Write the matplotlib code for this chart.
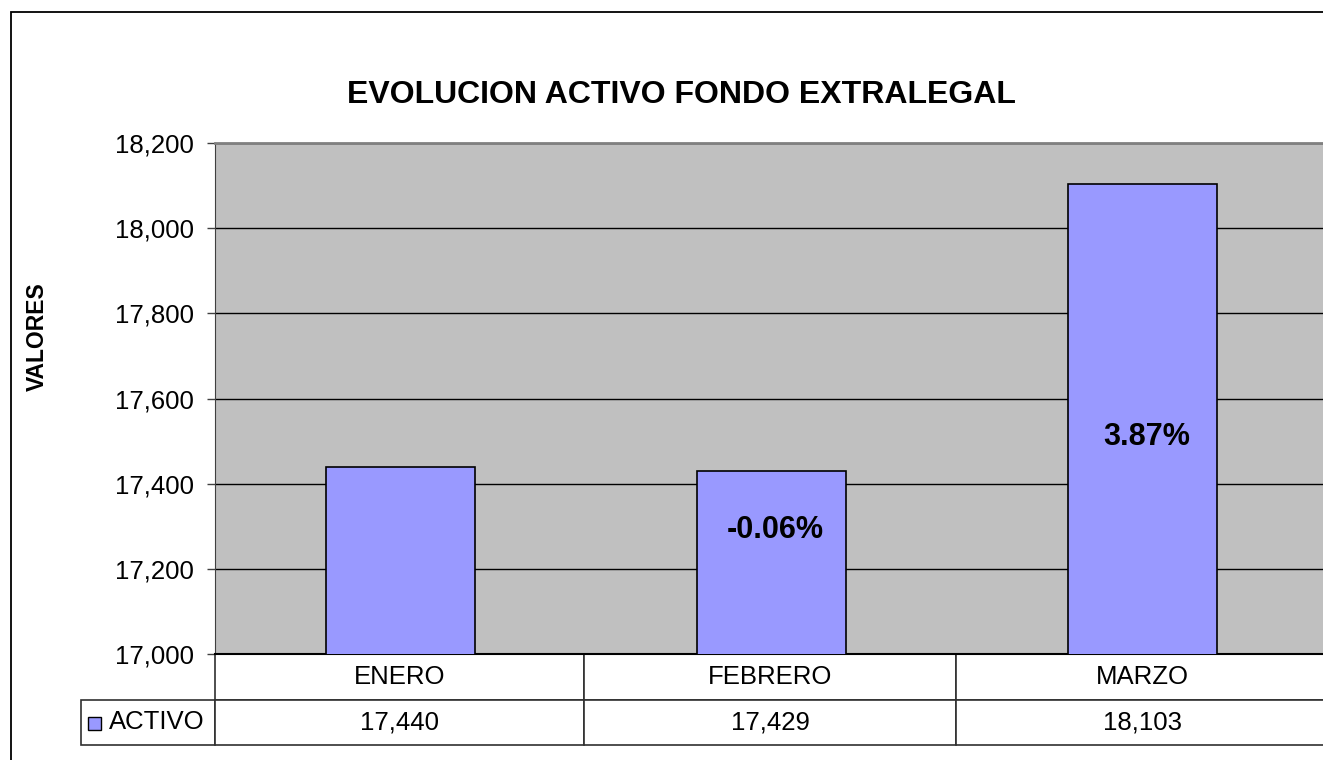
import matplotlib.pyplot as plt
from matplotlib.patches import Rectangle

plt.rcParams['font.family'] = ['Liberation Sans', 'DejaVu Sans']

meses = ['ENERO', 'FEBRERO', 'MARZO']
activo = [17440, 17429, 18103]
variacion = ['', '-0.06%', '3.87%']
pct_y = [None, 17291, 17510]   # where the percent labels sit
serie = 'ACTIVO'

W, H = 1323, 760
fig = plt.figure(figsize=(W / 100, H / 100), dpi=100)
fig.patch.set_facecolor('white')

# chart border (cropped on the right and bottom in the original)
fig.patches.append(Rectangle((11 / W, -0.05), 1.2, (H - 12) / H + 0.05,
                             transform=fig.transFigure, fill=False,
                             edgecolor='black', lw=1.3))

ax = fig.add_axes([215 / W, (H - 654) / H, (1328 - 215) / W, 511 / H])
ax.set_facecolor('#C0C0C0')

x = range(len(meses))
ax.set_axisbelow(True)
ax.yaxis.grid(True, color='black', lw=1)
ax.bar(x, activo, width=0.4, color='#9999FF', edgecolor='black', lw=1.2, zorder=3)

for i, t in enumerate(variacion):
    if t:
        ax.text(i + 0.01, pct_y[i], t, ha='center', va='center',
                fontsize=22, fontweight='bold', zorder=4)

ax.set_xlim(-0.5, 2.5)
ax.set_ylim(17000, 18200)
ax.set_yticks(range(17000, 18201, 200))
ax.set_yticklabels([f'{v:,}' for v in range(17000, 18201, 200)], fontsize=18.5)
ax.tick_params(axis='y', direction='out', length=6, pad=9, width=1, color='#404040')
ax.set_xticks([])
ax.spines['right'].set_visible(False)
ax.spines['top'].set_color('#808080')
ax.spines['top'].set_linewidth(2)
ax.spines['left'].set_color('#404040')
ax.spines['bottom'].set_color('black')
ax.spines['bottom'].set_linewidth(1.5)

# data table under the plot
tab_h = 91 / 511
left_w = (215 - 81) / (1328 - 215)
cells = [[''] + meses, [serie] + [f'{v:,}' for v in activo]]
tbl = ax.table(cellText=cells, cellLoc='center',
               colWidths=[134, 369, 372, 372],
               bbox=[-left_w, -tab_h, 1 + left_w, tab_h])
tbl.auto_set_font_size(False)
tbl.set_fontsize(18.5)
for (r, c), cell in tbl.get_celld().items():
    cell.set_edgecolor('#303030')
    cell.set_linewidth(1.2)
    if r == 0 and c == 0:
        cell.set_visible(False)
    if r == 1 and c == 0:
        cell._loc = 'right'
        cell.PAD = 0.08
        cell.get_text().set_horizontalalignment('right')

# legend key in the table
fig.patches.append(Rectangle((88 / W, 1 - 730 / H), 13 / W, 13 / H,
                             transform=fig.transFigure, facecolor='#9999FF',
                             edgecolor='black', lw=1))

fig.text(681 / W, 1 - 95 / H, 'EVOLUCION ACTIVO FONDO EXTRALEGAL',
         ha='center', va='center', fontsize=23, fontweight='bold')
fig.text(37 / W, 1 - 337 / H, 'VALORES', rotation=90, ha='center', va='center',
         fontsize=16.5, fontweight='bold')

fig.savefig('out.png', dpi=100)
